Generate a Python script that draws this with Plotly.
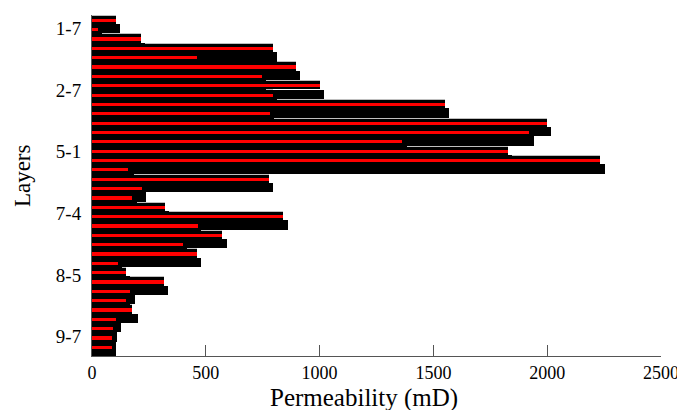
import numpy as np
import plotly.graph_objects as go

# Permeability per layer (mD), top to bottom
red_values = [106, 27, 215, 797, 463, 896, 749, 1000, 797, 1550, 783, 2000, 1922, 1362,
              1828, 2232, 160, 778, 219, 175, 322, 840, 464, 572, 398, 461, 114, 150,
              317, 168, 150, 177, 104, 92, 88, 88]
black_values = [125, 45, 233, 815, 480, 913, 765, 1018, 815, 1568, 800, 2015, 1940, 1385,
                1846, 2252, 183, 796, 238, 198, 339, 860, 480, 591, 418, 478, 130, 167,
                335, 187, 168, 200, 127, 110, 104, 104]
layer_tick_labels = ["1-7", "2-7", "5-1", "7-4", "8-5", "9-7"]
layer_tick_pos = [1.85, 8.45, 15.05, 21.65, 28.25, 34.85]
x_ticks = [0, 500, 1000, 1500, 2000, 2500]

slots = np.arange(1, len(red_values) + 1)
FONT = "Liberation Serif, Times New Roman, serif"

fig = go.Figure()
# black series (drawn first, offset below its red partner)
fig.add_trace(go.Bar(x=black_values, y=slots + 0.9, orientation="h", width=1.0,
                     marker=dict(color="black", line=dict(width=0)), showlegend=False))
# red series: black edge
fig.add_trace(go.Bar(x=red_values, y=slots, orientation="h", width=0.78,
                     marker=dict(color="black", line=dict(color="black", width=1.2)),
                     showlegend=False))
# red series: red face
fig.add_trace(go.Bar(x=red_values, y=slots, orientation="h", width=0.35,
                     marker=dict(color="#ff0000", line=dict(width=0)), showlegend=False))

# page body has an 8px margin, so the figure is sized to fit the 685x410 window
fig.update_layout(
    width=677, height=402,
    margin=dict(l=84, r=24, t=7, b=54),
    barmode="overlay", bargap=0,
    plot_bgcolor="white", paper_bgcolor="white",
    font=dict(family=FONT, color="black"),
    xaxis=dict(range=[0, 2500], tickvals=x_ticks, ticks="inside", ticklen=11,
               tickcolor="#555", tickwidth=1, showline=True, linecolor="#555",
               linewidth=1, showgrid=False, zeroline=False, automargin=False,
               tickfont=dict(family=FONT, size=18, color="black"),
               ticklabelstandoff=0),
    yaxis=dict(range=[36.93, 0.42], tickvals=layer_tick_pos, ticktext=layer_tick_labels,
               ticks="", showline=True, linecolor="#555", linewidth=1,
               showgrid=False, zeroline=False, automargin=False,
               tickfont=dict(family=FONT, size=19, color="black"),
               ticklabelstandoff=6),
    annotations=[
        dict(text="Permeability (mD)", xref="paper", yref="paper", x=0.478, y=-0.123,
             xanchor="center", yanchor="middle", showarrow=False,
             font=dict(family=FONT, size=25, color="black")),
        dict(text="Layers", xref="paper", yref="paper", x=-0.121, y=0.528,
             xanchor="center", yanchor="middle", showarrow=False, textangle=-90,
             font=dict(family=FONT, size=23, color="black")),
    ],
)

fig.write_html("out.html")
